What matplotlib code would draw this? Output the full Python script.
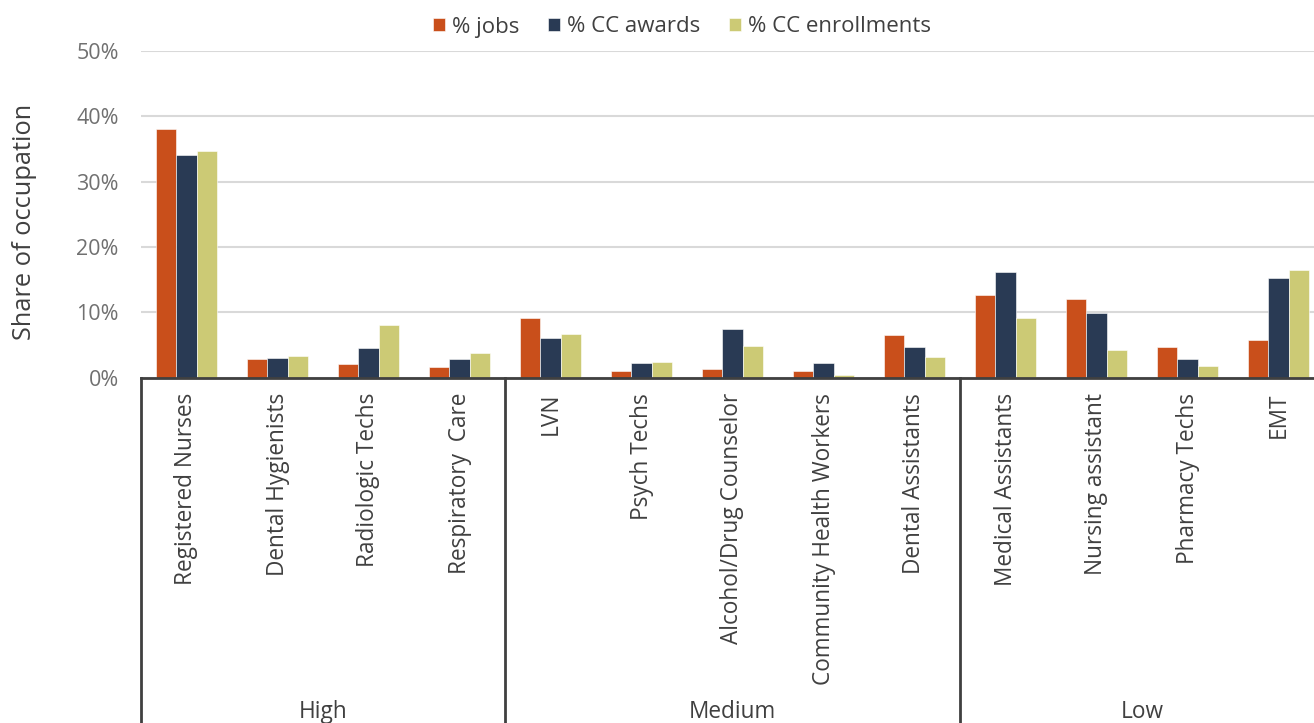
import matplotlib
matplotlib.use("Agg")
import matplotlib.pyplot as plt
import matplotlib.transforms as mtransforms
import numpy as np

# data (share of occupation, %)
occupations = ['Registered Nurses', 'Dental Hygienists', 'Radiologic Techs', 'Respiratory  Care',
               'LVN', 'Psych Techs', 'Alcohol/Drug Counselor', 'Community Health Workers', 'Dental Assistants',
               'Medical Assistants', 'Nursing assistant', 'Pharmacy Techs', 'EMT']
jobs = [38.1, 2.8, 2.1, 1.6, 9.1, 1.0, 1.3, 1.0, 6.5, 12.6, 12.0, 4.6, 5.8]
cc_awards = [34.1, 3.0, 4.5, 2.8, 6.0, 2.2, 7.5, 2.2, 4.7, 16.2, 9.9, 2.8, 15.2]
cc_enrollments = [34.7, 3.3, 8.0, 3.8, 6.7, 2.4, 4.8, 0.4, 3.1, 9.1, 4.2, 1.7, 16.4]
groups = ['High', 'Medium', 'Low']
group_sizes = [4, 5, 4]
series_names = ['% jobs', '% CC awards', '% CC enrollments']

colors = ['#C94F1B', '#293A54', '#CCCA75']
dark = '#404040'
grey = '#707070'

plt.rcParams['font.family'] = ['Open Sans', 'DejaVu Sans']

fig = plt.figure(figsize=(13.14, 7.23), dpi=100)
# axes run a bit past the right edge, as in the original crop
ax = fig.add_axes([141 / 1314, 345.5 / 723, 1183 / 1314, 326.5 / 723])

x = np.arange(len(occupations))
w = 0.222
for i, vals in enumerate([jobs, cc_awards, cc_enrollments]):
    ax.bar(x + (i - 1) * w, vals, w, color=colors[i], label=series_names[i],
           edgecolor='white', linewidth=0.4, zorder=2)

ax.set_xlim(-0.5, len(occupations) - 0.5)
ax.set_ylim(0, 50)
ax.set_yticks(range(0, 51, 10))
ax.set_yticklabels([f'{v}%' for v in range(0, 51, 10)], fontsize=15.5, color=grey)
ax.yaxis.grid(True, color='#D9D9D9', linewidth=1.5, zorder=0)
ax.set_axisbelow(True)

ax.set_xticks(x)
ax.set_xticklabels(occupations, rotation=90, fontsize=16.3, color=dark, va='top', ha='center')
ax.tick_params(axis='x', length=0, pad=11)
ax.tick_params(axis='y', length=0, pad=16)

for s in ['top', 'right', 'left']:
    ax.spines[s].set_visible(False)
ax.spines['bottom'].set_color(dark)
ax.spines['bottom'].set_linewidth(2)
ax.spines['bottom'].set_zorder(3)

# group separators and group names under the category labels
trans = mtransforms.blended_transform_factory(ax.transData, ax.transAxes)
bottom = -345.5 / 326.5
edges = np.concatenate([[0], np.cumsum(group_sizes)]) - 0.5
for e in edges:
    ax.plot([e, e], [0, bottom], transform=trans, color=dark, linewidth=2, clip_on=False)
for g, a, b in zip(groups, edges[:-1], edges[1:]):
    ax.text((a + b) / 2, -334 / 326.5, g, transform=trans, ha='center', va='center',
            fontsize=16.3, color=dark)

fig.text(25 / 1314, 1 - 222 / 723, 'Share of occupation', rotation=90, ha='center', va='center',
         fontsize=18.3, color=dark)

leg = fig.legend(loc='center', bbox_to_anchor=(682 / 1314, 1 - 27 / 723), ncol=3, frameon=False,
                 fontsize=16, handlelength=0.55, handleheight=0.55, handletextpad=0.3, columnspacing=1.3)
for t in leg.get_texts():
    t.set_color(dark)

fig.savefig('out.png', dpi=100)
